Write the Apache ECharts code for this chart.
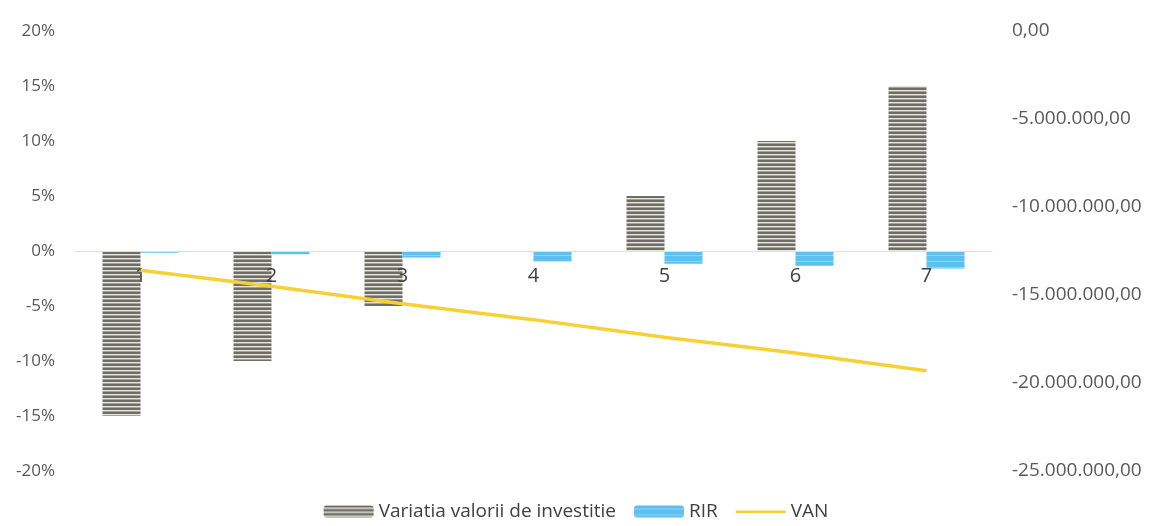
<!DOCTYPE html>
<html>
<head>
<meta charset="utf-8">
<script src="https://cdn.jsdelivr.net/npm/echarts@6/dist/echarts.min.js"></script>
<style>
html,body{margin:0;padding:0;background:#fff;}
#chart{width:1152px;height:526px;}
</style>
</head>
<body>
<div id="chart"></div>
<script>
// ---- data ----
const categories = ['1', '2', '3', '4', '5', '6', '7'];
const variatiaValues = [-15, -10, -5, 0, 5, 10, 15];          // %
const rirValues = [-0.15, -0.3, -0.6, -0.95, -1.15, -1.35, -1.6]; // %
const vanValues = [-13600000, -14500000, -15500000, -16400000, -17400000, -18300000, -19300000];
const leftTicks = {min: -20, max: 20, interval: 5};
const rightTicks = {min: -25000000, max: 0, interval: 5000000};

// ---- stripe patterns ----
function stripes(rows) {
  const c = document.createElement('canvas');
  c.width = 4; c.height = rows.length;
  const ctx = c.getContext('2d');
  rows.forEach((col, i) => { ctx.fillStyle = col; ctx.fillRect(0, i, 4, 1); });
  return c;
}
const grayPattern = stripes(['#6e6e68', '#6e6e68', '#e6e6da', '#a2a29a']);
const bluePattern = stripes(['#5cc0f0', '#5cc0f0', '#5cc0f0', '#8fd3f5', '#5cc0f0', '#5cc0f0']);

function fmtMoney(v) {
  const neg = v < 0;
  const s = Math.abs(Math.round(v)).toString().replace(/\B(?=(\d{3})+(?!\d))/g, '.');
  return (neg ? '-' : '') + s + ',00';
}

const FONT = 'Open Sans';
const GRID = {left: 75, right: 160, top: 31, bottom: 55};
const gridHeight = 526 - GRID.top - GRID.bottom;
// left axis is symmetric around 0, so the zero line is at the middle of the grid
const zeroOffset = -gridHeight * (0 - leftTicks.min) / (leftTicks.max - leftTicks.min);
const lineIcon = 'path://M0,0L50,0L50,0.01Z M0,5L50,5L50,7.5L0,7.5Z M0,12L50,12L50,12.01Z';
const chart = echarts.init(document.getElementById('chart'));
chart.setOption({
  backgroundColor: '#fff',
  animation: false,
  grid: GRID,
  legend: {
    bottom: 0,
    left: 'center',
    itemWidth: 50,
    itemHeight: 12,
    itemGap: 18,
    textStyle: {fontFamily: FONT, fontSize: 19, color: '#404040'},
    data: [
      {name: 'Variatia valorii de investitie'},
      {name: 'RIR'},
      {name: 'VAN', icon: lineIcon}
    ]
  },
  xAxis: {
    type: 'category',
    data: categories,
    position: 'bottom',
    offset: zeroOffset,
    z: 5,
    axisTick: {show: false},
    axisLine: {onZero: false, lineStyle: {color: '#e0e0e0', width: 1}},
    axisLabel: {fontFamily: FONT, fontSize: 20, color: '#404040', margin: 15}
  },
  yAxis: [
    {
      type: 'value',
      min: leftTicks.min, max: leftTicks.max, interval: leftTicks.interval,
      splitLine: {show: false},
      axisLine: {show: false},
      axisTick: {show: false},
      axisLabel: {fontFamily: FONT, fontSize: 17, color: '#595959', margin: 20, formatter: '{value}%'}
    },
    {
      type: 'value',
      min: rightTicks.min, max: rightTicks.max, interval: rightTicks.interval,
      splitLine: {show: false},
      axisLine: {show: false},
      axisTick: {show: false},
      axisLabel: {fontFamily: FONT, fontSize: 19, color: '#595959', margin: 20, formatter: fmtMoney}
    }
  ],
  series: [
    {
      name: 'Variatia valorii de investitie',
      type: 'bar',
      yAxisIndex: 0,
      barWidth: 38,
      barGap: '0%',
      data: variatiaValues,
      itemStyle: {color: {image: grayPattern, repeat: 'repeat'}}
    },
    {
      name: 'RIR',
      type: 'bar',
      yAxisIndex: 0,
      barWidth: 38,
      barGap: '0%',
      data: rirValues,
      itemStyle: {color: {image: bluePattern, repeat: 'repeat'}}
    },
    {
      name: 'VAN',
      type: 'line',
      yAxisIndex: 1,
      data: vanValues,
      symbol: 'none',
      z: 6,
      lineStyle: {color: '#f7d035', width: 3.5},
      itemStyle: {color: '#f7d035'}
    }
  ]
});
</script>
</body>
</html>
